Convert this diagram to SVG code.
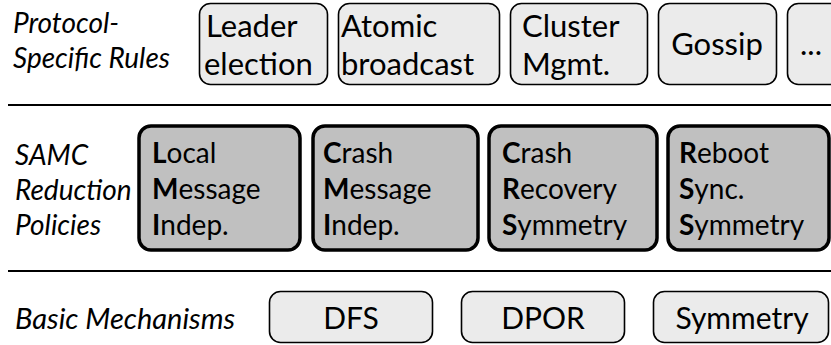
<svg xmlns="http://www.w3.org/2000/svg" width="831" height="345" viewBox="0 0 831 345">
<style>
text{font-family:Lato,"Open Sans","DejaVu Sans",sans-serif;fill:#000}
.lab{font-style:italic;font-size:28px}
.big{font-size:31px}
.bot{font-size:30px}
.mid{font-size:28px}
.b{font-weight:bold}
.light{fill:#ebebeb;stroke:#000;stroke-width:1.6}
.dark{fill:#c0c0c0;stroke:#000;stroke-width:3.5}
.sep{stroke:#000;stroke-width:2}
</style>
<rect width="831" height="345" fill="#fff"/>
<g id="separators">
<line class="sep" x1="8" y1="105" x2="831" y2="105"/>
<line class="sep" x1="8" y1="271" x2="831" y2="271"/>
</g>
<g id="labels">
<text class="lab" x="13" y="33">Protocol-</text>
<text class="lab" x="13" y="68">Specific Rules</text>
<text class="lab" x="15" y="165">SAMC</text>
<text class="lab" x="15" y="200">Reduction</text>
<text class="lab" x="15" y="235">Policies</text>
<text class="lab" x="15" y="329" style="font-size:29px">Basic Mechanisms</text>
</g>
<g id="leader"><rect class="light" x="199.5" y="3.5" width="128" height="81" rx="11"/><text class="big" x="206" y="37">Leader</text><text class="big" x="204" y="75">election</text></g>
<g id="atomic"><rect class="light" x="338.5" y="3.5" width="161" height="81" rx="11"/><text class="big" x="341" y="37">Atomic</text><text class="big" x="341" y="75">broadcast</text></g>
<g id="cluster"><rect class="light" x="510.5" y="3.5" width="137" height="81" rx="11"/><text class="big" x="522" y="37">Cluster</text><text class="big" x="522" y="75">Mgmt.</text></g>
<g id="gossip"><rect class="light" x="658.5" y="3.5" width="118" height="81" rx="11"/><text class="big" x="717" y="55" text-anchor="middle">Gossip</text></g>
<g id="more"><rect class="light" x="787.5" y="3.5" width="60" height="81" rx="11"/><text class="big" x="800" y="55">...</text></g>
<g id="lmi"><rect class="dark" x="139" y="126" width="161" height="124" rx="12"/><text class="mid" x="152" y="163"><tspan class="b">L</tspan>ocal</text><text class="mid" x="152" y="199"><tspan class="b">M</tspan>essage</text><text class="mid" x="152" y="235"><tspan class="b">I</tspan>ndep.</text></g>
<g id="cmi"><rect class="dark" x="313" y="126" width="165" height="124" rx="12"/><text class="mid" x="323" y="163"><tspan class="b">C</tspan>rash</text><text class="mid" x="323" y="199"><tspan class="b">M</tspan>essage</text><text class="mid" x="323" y="235"><tspan class="b">I</tspan>ndep.</text></g>
<g id="crs"><rect class="dark" x="489" y="126" width="168" height="124" rx="12"/><text class="mid" x="502" y="163"><tspan class="b">C</tspan>rash</text><text class="mid" x="502" y="199"><tspan class="b">R</tspan>ecovery</text><text class="mid" x="502" y="235"><tspan class="b">S</tspan>ymmetry</text></g>
<g id="rss"><rect class="dark" x="668" y="126" width="161" height="124" rx="12"/><text class="mid" x="679" y="163"><tspan class="b">R</tspan>eboot</text><text class="mid" x="679" y="199"><tspan class="b">S</tspan>ync.</text><text class="mid" x="679" y="235"><tspan class="b">S</tspan>ymmetry</text></g>
<g id="dfs"><rect class="light" x="269.5" y="291.5" width="163" height="51" rx="11"/><text class="bot" x="351" y="329" text-anchor="middle">DFS</text></g>
<g id="dpor"><rect class="light" x="461.5" y="291.5" width="163" height="51" rx="11"/><text class="bot" x="543" y="329" text-anchor="middle">DPOR</text></g>
<g id="symmetry"><rect class="light" x="653.5" y="291.5" width="175" height="51" rx="11"/><text class="bot" x="742" y="329" text-anchor="middle">Symmetry</text></g>
</svg>
